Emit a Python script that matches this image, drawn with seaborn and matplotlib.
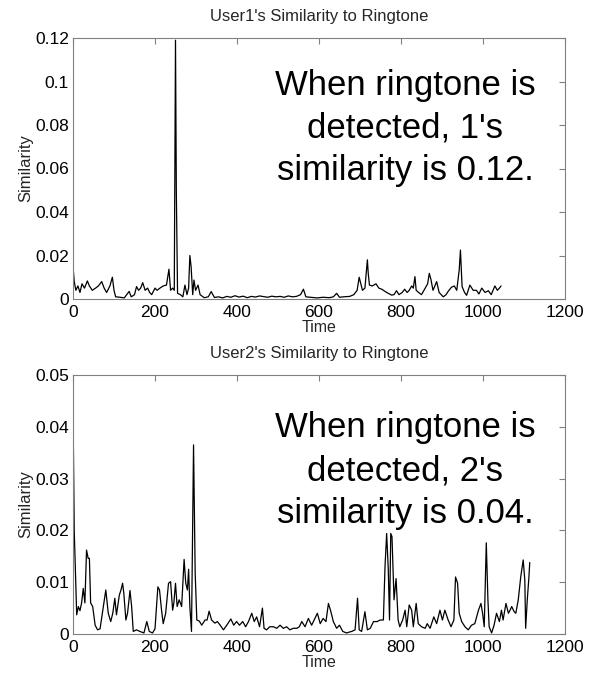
import matplotlib
matplotlib.use("Agg")
import matplotlib.pyplot as plt
import seaborn as sns
import pandas as pd

# ---------------- data ----------------
time1 = [0, 3, 7, 12, 17, 22, 28, 35, 40, 47,
         55, 62, 70, 76, 82, 90, 96, 100, 104, 115,
         125, 137, 142, 150, 155, 160, 165, 170, 176, 182,
         187, 192, 200, 205, 212, 220, 228, 234, 238, 243,
         247, 250, 252, 255, 262, 268, 273, 278, 282, 285,
         288, 292, 295, 299, 305, 310, 320, 330, 337, 345,
         355, 365, 375, 385, 395, 405, 415, 425, 435, 445,
         455, 465, 475, 485, 495, 505, 515, 525, 535, 545,
         555, 562, 568, 580, 595, 610, 625, 635, 643, 650,
         660, 675, 685, 693, 698, 702, 706, 712, 718, 720,
         723, 730, 739, 746, 753, 765, 777, 783, 789, 795,
         803, 809, 815, 820, 826, 830, 834, 837, 843, 850,
         859, 865, 869, 873, 878, 887, 893, 903, 910, 915,
         923, 930, 936, 942, 945, 949, 955, 960, 968, 976,
         984, 990, 997, 1005, 1013, 1020, 1029, 1035, 1040, 1044]
sim1 = [0.015, 0.008, 0.004, 0.006, 0.003, 0.007, 0.005, 0.0083, 0.006, 0.004,
        0.005, 0.006, 0.008, 0.005, 0.003, 0.006, 0.0100, 0.004, 0.001, 0.0008,
        0.0005, 0.0035, 0.001, 0.002, 0.0057, 0.004, 0.005, 0.0075, 0.004, 0.005,
        0.003, 0.002, 0.005, 0.004, 0.005, 0.006, 0.0064, 0.0137, 0.004, 0.005,
        0.004, 0.119, 0.05, 0.0026, 0.002, 0.001, 0.0064, 0.002, 0.005, 0.020,
        0.015, 0.002, 0.0087, 0.004, 0.0064, 0.002, 0.0006, 0.001, 0.0034, 0.0007,
        0.001, 0.0005, 0.0012, 0.0008, 0.0015, 0.0009, 0.0013, 0.0006, 0.0012, 0.0009,
        0.0014, 0.0011, 0.0008, 0.0013, 0.001, 0.0012, 0.0008, 0.0014, 0.001, 0.0012,
        0.002, 0.0045, 0.001, 0.0008, 0.0005, 0.0008, 0.0006, 0.001, 0.0026, 0.0008,
        0.001, 0.0012, 0.002, 0.004, 0.010, 0.007, 0.004, 0.005, 0.018, 0.012,
        0.0064, 0.006, 0.007, 0.005, 0.0045, 0.003, 0.0018, 0.002, 0.0038, 0.002,
        0.003, 0.0045, 0.003, 0.004, 0.006, 0.005, 0.0103, 0.004, 0.003, 0.002,
        0.005, 0.007, 0.0118, 0.009, 0.004, 0.008, 0.003, 0.001, 0.002, 0.0035,
        0.0054, 0.006, 0.004, 0.0134, 0.0225, 0.0057, 0.003, 0.0017, 0.0064, 0.004,
        0.004, 0.0023, 0.005, 0.003, 0.0038, 0.002, 0.006, 0.004, 0.005, 0.006]

time2 = [0, 1, 3, 6, 9, 13, 17, 21, 25, 29,
         33, 37, 40, 43, 48, 54, 60, 66, 74, 80,
         86, 92, 97, 102, 106, 113, 117, 121, 124, 129,
         133, 139, 143, 147, 155, 163, 173, 180, 186, 194,
         200, 207, 211, 216, 220, 226, 233, 238, 243, 246,
         250, 254, 259, 265, 271, 275, 279, 282, 285, 289,
         294, 298, 302, 308, 314, 322, 327, 332, 338, 346,
         352, 359, 367, 375, 385, 392, 399, 406, 414, 421,
         428, 436, 442, 448, 455, 462, 466, 472, 480, 489,
         497, 505, 513, 521, 529, 537, 546, 552, 558, 566,
         574, 582, 590, 596, 603, 610, 617, 623, 628, 635,
         643, 650, 658, 667, 675, 680, 688, 694, 698, 704,
         712, 718, 725, 733, 742, 749, 757, 761, 765, 769,
         772, 775, 778, 783, 788, 793, 797, 804, 810, 814,
         820, 826, 830, 837, 842, 850, 859, 864, 871, 880,
         887, 895, 901, 907, 915, 922, 929, 933, 938, 942,
         948, 956, 964, 972, 980, 989, 995, 999, 1003, 1008,
         1012, 1015, 1021, 1027, 1033, 1040, 1045, 1049, 1056, 1062,
         1066, 1070, 1076, 1080, 1086, 1092, 1098, 1102, 1104, 1108,
         1112, 1114]
sim2 = [0.0415, 0.036, 0.020, 0.012, 0.0037, 0.0053, 0.0045, 0.006, 0.0088, 0.006,
        0.0162, 0.0146, 0.0146, 0.006, 0.0053, 0.0017, 0.0008, 0.001, 0.0053, 0.0085,
        0.004, 0.0024, 0.004, 0.0069, 0.0037, 0.0075, 0.0085, 0.0098, 0.0078, 0.0027,
        0.004, 0.0084, 0.0053, 0.0005, 0.0008, 0.0005, 0.0002, 0.0024, 0.0005, 0.0002,
        0.001, 0.0091, 0.0085, 0.0046, 0.002, 0.004, 0.0098, 0.0101, 0.0046, 0.006,
        0.0098, 0.0053, 0.0066, 0.0053, 0.0144, 0.0098, 0.0085, 0.0125, 0.0053, 0.0005,
        0.0365, 0.0117, 0.0027, 0.0025, 0.0017, 0.0027, 0.0027, 0.0044, 0.0027, 0.0021,
        0.0024, 0.0017, 0.0008, 0.0017, 0.0029, 0.0017, 0.0024, 0.0017, 0.0024, 0.0014,
        0.0024, 0.004, 0.0024, 0.0033, 0.0014, 0.005, 0.0011, 0.0008, 0.0014, 0.0014,
        0.0011, 0.0017, 0.0011, 0.0014, 0.0008, 0.0011, 0.0011, 0.0014, 0.0024, 0.0014,
        0.003, 0.0017, 0.003, 0.004, 0.002, 0.003, 0.0024, 0.0059, 0.0046, 0.0024,
        0.0011, 0.0017, 0.0005, 0.0002, 0.0004, 0.0005, 0.0008, 0.0069, 0.0008, 0.0005,
        0.0043, 0.0008, 0.0011, 0.0024, 0.0024, 0.0027, 0.0027, 0.013, 0.0194, 0.0124,
        0.0027, 0.0194, 0.0188, 0.0066, 0.0107, 0.0027, 0.0014, 0.0027, 0.0046, 0.0014,
        0.0056, 0.0046, 0.0014, 0.0059, 0.002, 0.0014, 0.0011, 0.002, 0.0011, 0.0033,
        0.002, 0.0046, 0.0027, 0.0046, 0.0027, 0.0014, 0.0027, 0.011, 0.0098, 0.004,
        0.0024, 0.0014, 0.0008, 0.0017, 0.002, 0.0046, 0.0059, 0.004, 0.0014, 0.0176,
        0.0066, 0.0014, 0.0002, 0.0017, 0.004, 0.0024, 0.0046, 0.0027, 0.0059, 0.004,
        0.0046, 0.0053, 0.0043, 0.004, 0.0066, 0.011, 0.0143, 0.0104, 0.0011, 0.0066,
        0.011, 0.0138]

x_ticks = [0, 200, 400, 600, 800, 1000, 1200]
y_ticks1 = [0, 0.02, 0.04, 0.06, 0.08, 0.1, 0.12]
y_labels1 = ["0", "0.02", "0.04", "0.06", "0.08", "0.1", "0.12"]
y_ticks2 = [0, 0.01, 0.02, 0.03, 0.04, 0.05]
y_labels2 = ["0", "0.01", "0.02", "0.03", "0.04", "0.05"]

titles = ["User1's Similarity to Ringtone", "User2's Similarity to Ringtone"]
notes = ["When ringtone is\ndetected, 1's\nsimilarity is 0.12.",
         "When ringtone is\ndetected, 2's\nsimilarity is 0.04."]

assert len(time1) == len(sim1) and len(time2) == len(sim2)

# ---------------- style ----------------
sns.set_style("white")
plt.rcParams["font.family"] = ["Liberation Sans", "DejaVu Sans"]

fig = plt.figure(figsize=(5.94, 6.75), dpi=100)
ax1 = fig.add_axes([73 / 594, 1 - 299 / 675, 492 / 594, 261 / 675])
ax2 = fig.add_axes([73 / 594, 1 - 634 / 675, 492 / 594, 259 / 675])

df1 = pd.DataFrame({"Time": time1, "Similarity": sim1})
df2 = pd.DataFrame({"Time": time2, "Similarity": sim2})

specs = [
    (ax1, df1, y_ticks1, y_labels1, 0.12, titles[0], notes[0], 0.0786),
    (ax2, df2, y_ticks2, y_labels2, 0.05, titles[1], notes[1], 0.0315),
]

for ax, df, yt, yl, ymax, title, note, ny in specs:
    sns.lineplot(data=df, x="Time", y="Similarity", ax=ax, color="black",
                 linewidth=0.9, estimator=None, sort=False)
    ax.set_xlim(0, 1200)
    ax.set_ylim(0, ymax)
    ax.set_xticks(x_ticks)
    ax.set_xticklabels([str(v) for v in x_ticks])
    ax.set_yticks(yt)
    ax.set_yticklabels(yl)
    ax.tick_params(direction="in", length=4, width=0.8, color="#808080",
                   top=True, right=True, labelsize=12.5, labelcolor="black",
                   pad=3)
    ax.tick_params(axis="x", pad=4)
    for sp in ax.spines.values():
        sp.set_color("#808080")
        sp.set_linewidth(0.8)
    ax.set_title(title, fontsize=12, pad=12)
    ax.set_xlabel("Time", fontsize=11.5, labelpad=0)
    ax.set_ylabel("Similarity", fontsize=12, labelpad=1)
    ax.text(810, ny, note, fontsize=25, ha="center", va="center",
            multialignment="center", linespacing=1.38, color="black")

fig.savefig("out.png", dpi=100)
